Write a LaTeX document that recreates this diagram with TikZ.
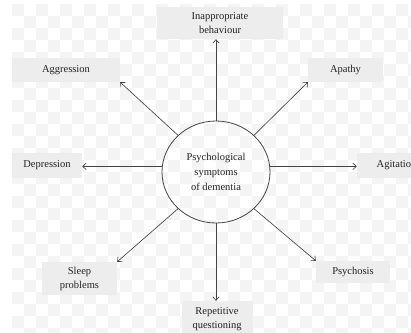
\documentclass[tikz,border=0pt]{standalone}
\usepackage{fontspec}
\setmainfont{Liberation Serif}
\usetikzlibrary{arrows.meta,shapes.geometric}
\definecolor{boxgray}{HTML}{EDEDED}
\definecolor{chk}{HTML}{F4F4F4}
\definecolor{linegray}{HTML}{444444}
\definecolor{txt}{HTML}{222222}
\begin{document}
\begin{tikzpicture}[x=1pt,y=-1pt,
  lbl/.style={fill=boxgray, inner sep=0pt, align=center, text=txt, font=\fontsize{10.5}{14}\selectfont},
  arr/.style={draw=linegray, line width=0.65pt, -{Straight Barb[length=3.5pt,width=6.5pt]}}]
\useasboundingbox (0,0) rectangle (411,332);
\fill[white] (0,0) rectangle (411,332);
\foreach \i in {0,...,33}{\foreach \j in {0,...,27}{%
  \pgfmathtruncatemacro\p{mod(\i+\j,2)}%
  \ifnum\p=0 \fill[chk] (12+\i*12,4+\j*12) rectangle ++(12,12);\fi}}
% center
\node[ellipse, draw=linegray, line width=0.8pt, minimum width=108pt, minimum height=102pt,
  inner sep=0pt, align=center, text=txt, font=\fontsize{10.5}{14.6}\selectfont] (c) at (216,172)
  {Psychological\\symptoms\\of dementia};
% labels
\node[lbl, minimum width=126pt, minimum height=32pt] (inap) at (220,23) {Inappropriate\\behaviour};
\node[lbl, minimum width=108pt, minimum height=24pt] (agg) at (66,70) {Aggression};
\node[lbl, minimum width=75pt, minimum height=24pt] (apa) at (345.5,70) {Apathy};
\node[lbl, minimum width=70pt, minimum height=25pt] (dep) at (47,165.5) {Depression};
\node[lbl, minimum width=79pt, minimum height=25pt] (agit) at (396.5,165.5) {Agitation};
\node[lbl, minimum width=75pt, minimum height=33pt] (sleep) at (79.5,278.5) {Sleep\\problems};
\node[lbl, minimum width=74pt, minimum height=22pt] (psy) at (353,272) {Psychosis};
\node[lbl, minimum width=71pt, minimum height=37pt] (rep) at (217,319.5) {Repetitive\\questioning};
% arrows
\draw[arr] (c.north) -- (c.north |- inap.south);
\draw[arr] (c.136) -- (agg.south east);
\draw[arr] (c.44) -- (apa.south west);
\draw[arr] (c.174) -- (c.174 -| dep.east);
\draw[arr] (c.6) -- (c.6 -| agit.west);
\draw[arr] (c.224) -- (sleep.north east);
\draw[arr] (c.316) -- (psy.north west);
\draw[arr] (c.south) -- (c.south |- rep.north);
\end{tikzpicture}
\end{document}
